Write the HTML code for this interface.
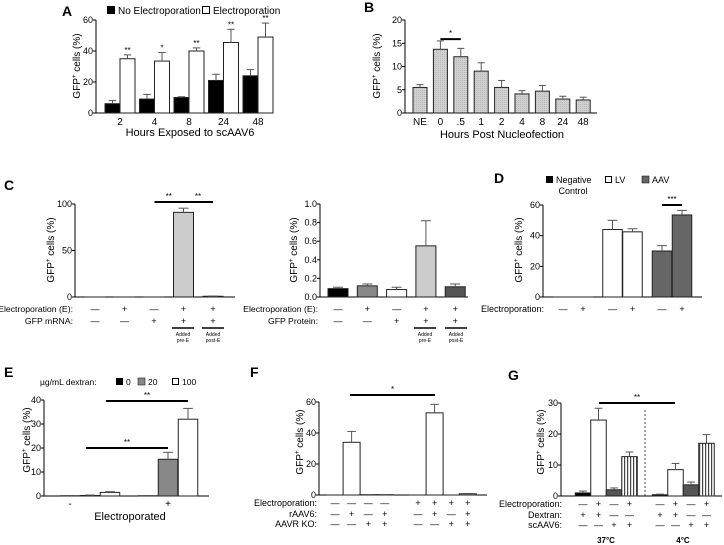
<!DOCTYPE html>
<html><head><meta charset="utf-8"><style>
html,body{margin:0;padding:0;background:#fff;}
svg{display:block;font-family:"Liberation Sans",Arial,sans-serif;}
</style></head><body>
<svg id="fig" width="724" height="545" viewBox="0 0 724 545" xmlns="http://www.w3.org/2000/svg">
<defs>
<pattern id="stripes" width="3" height="4" patternUnits="userSpaceOnUse"><rect width="3" height="4" fill="#fff"/><rect width="1.2" height="4" fill="#444"/></pattern>
<pattern id="dots" width="2" height="2" patternUnits="userSpaceOnUse"><rect width="2" height="2" fill="#d0d0d0"/><rect width="1" height="1" fill="#b8b8b8"/></pattern>
</defs>
<g font-weight="bold" font-size="14" fill="#000">
<text x="62" y="16">A</text>
<text x="364" y="12">B</text>
<text x="4" y="190">C</text>
<text x="494" y="183">D</text>
<text x="4" y="377">E</text>
<text x="250" y="377">F</text>
<text x="508" y="380">G</text>
</g>
<g font-size="10" fill="#000">
<rect x="107" y="6" width="8" height="8" fill="#000"/>
<text x="118" y="14">No Electroporation</text>
<rect x="202.5" y="6.5" width="7" height="7" fill="#fff" stroke="#000"/>
<text x="213" y="14">Electroporation</text>
<text x="190" y="136" text-anchor="middle" font-size="11">Hours Exposed to scAAV6</text>
<text x="502" y="138" text-anchor="middle" font-size="11">Hours Post Nucleofection</text>
<rect x="546" y="176" width="7" height="7" fill="#000"/>
<text x="556" y="183" font-size="9">Negative</text>
<text x="573" y="194" font-size="9" text-anchor="middle">Control</text>
<rect x="605.5" y="176.5" width="6" height="6" fill="#fff" stroke="#000"/>
<text x="615" y="183" font-size="9">LV</text>
<rect x="642" y="176" width="7" height="7" fill="#666" stroke="#000" stroke-width="0.5"/>
<text x="652" y="183" font-size="9">AAV</text>
<text x="40" y="385" font-size="8.5">µg/mL dextran:</text>
<rect x="116" y="378" width="7" height="7" fill="#000"/>
<text x="126" y="385" font-size="8.5">0</text>
<rect x="138" y="378" width="7" height="7" fill="#888" stroke="#000" stroke-width="0.5"/>
<text x="148" y="385" font-size="8.5">20</text>
<rect x="172.5" y="378.5" width="6" height="6" fill="#fff" stroke="#000"/>
<text x="182" y="385" font-size="8.5">100</text>
<text x="130" y="520" text-anchor="middle" font-size="11">Electroporated</text>
<text x="606" y="543" text-anchor="middle" font-size="8" font-weight="bold">37°C</text>
<text x="683" y="543" text-anchor="middle" font-size="8" font-weight="bold">4°C</text>
<line x1="645" y1="410" x2="645" y2="496" stroke="#000" stroke-width="0.7" stroke-dasharray="2,2"/>
</g>
</svg>
<script>
const svg = document.getElementById('fig');
const NS = 'http://www.w3.org/2000/svg';
function el(tag, attrs){ const e=document.createElementNS(NS,tag); for(const k in attrs) e.setAttribute(k,attrs[k]); svg.appendChild(e); return e; }

// ---- data ----
const aCats=['2','4','8','24','48'];
const aNoE=[6,9,10,21,24];
const aNoEErr=[8,12,10.5,25,28];
const aE=[35,33.5,40,45.5,49];
const aEErr=[37.5,39,42,54,58];
const aStars=['**','*','**','**','**'];
const aTicks=[0,20,40,60];

const bCats=['NE','0','.5','1','2','4','8','24','48'];
const bVals=[5.5,13.7,12.1,9,5.5,4.1,4.7,3,2.8];
const bErr=[6.1,15.5,13.9,10.8,7,4.8,5.9,3.6,3.4];
const bTicks=[0,5,10,15,20];

const c1Vals=[0,0,0,91,0.8];
const c1Err=[0,0,0,95.5,1];
const c1Ticks=[0,50,100];
const c1RowE=['—','+','—','+','+'];
const c1RowM=['—','—','+','+','+'];

const c2Vals=[0.09,0.12,0.08,0.55,0.11];
const c2Err=[0.105,0.14,0.105,0.82,0.14];
const c2Ticks=[0,0.2,0.4,0.6,0.8,1.0];
const c2RowE=['—','+','—','+','+'];
const c2RowP=['—','—','+','+','+'];

const dGroups=['Negative Control','LV','AAV'];
const dNoE=[0,44,30];
const dNoEErr=[0,50,33.5];
const dE=[0,42.5,53.5];
const dEErr=[0,44.5,56.5];
const dTicks=[0,20,40,60];

const eGroups=['-','+'];
const e0=[0.1,0.1];
const e20=[0.2,15.3];
const e100=[1.5,32];
const e0Err=[0.2,0.2];
const e20Err=[0.4,18.2];
const e100Err=[1.8,36.5];
const eTicks=[0,10,20,30,40];

const fVals=[0,34,0.2,0.2,0,53,0,0.8];
const fErr=[0,41,0.3,0.3,0,58.5,0,1];
const fTicks=[0,20,40,60];
const fRowE=['—','—','—','—','+','+','+','+'];
const fRowR=['—','+','—','+','—','+','—','+'];
const fRowK=['—','—','+','+','—','—','+','+'];

const g37=[1,24.5,2,12.7];
const g37Err=[1.6,28.3,2.6,14.2];
const g4=[0.4,8.5,3.6,17];
const g4Err=[0.6,10.5,4.5,19.8];
const gTicks=[0,10,20,30];
const gRowE=['—','+','—','+'];
const gRowD=['+','+','—','—'];
const gRowS=['—','—','+','+'];

// ---- helpers ----
function ys(ax,v){ return ax.y0 - v/ax.max*(ax.y0-ax.yT); }
function axis(ax, ticks, fmt, name){
  const v=el('line',{x1:ax.x0,y1:ax.yT,x2:ax.x0,y2:ax.y0,stroke:'#000','stroke-width':1});
  
  
  const h=el('line',{x1:ax.x0,y1:ax.y0,x2:ax.x1,y2:ax.y0,stroke:'#000','stroke-width':1});
  
  
  ticks.forEach(t=>{
    const y=ys(ax,t);
    const l=el('line',{x1:ax.x0-3,y1:y,x2:ax.x0,y2:y,stroke:'#000','stroke-width':1});
    
    
    const tx=el('text',{x:ax.x0-3,y:y+3,'text-anchor':'end','font-size':9});
    tx.textContent=fmt(t);
    
    
  });
}
function ytitle(x,y,name){
  const t=el('text',{x:0,y:0,transform:'translate('+x+','+y+') rotate(-90)','text-anchor':'middle','font-size':10});
  t.innerHTML='GFP<tspan font-size="6" dy="-4">+</tspan><tspan dy="4"> cells (%)</tspan>';
  
  
}
function bar(ax,cx,w,v,e,fill,name){
  const top=ys(ax,v);
  const r=el('rect',{x:cx-w/2,y:top,width:w,height:Math.max(ax.y0-top,0.01),fill:fill,stroke:'#222','stroke-width':1});
  
  
  if(e>v){
    const et=ys(ax,e);
    const l=el('line',{x1:cx,y1:top,x2:cx,y2:et,stroke:'#555','stroke-width':1});
    
    
    const c=el('line',{x1:cx-w/4,y1:et,x2:cx+w/4,y2:et,stroke:'#555','stroke-width':1});
    
    
  }
}
function txt(x,y,s,size,anchor,name){
  const t=el('text',{x:x,y:y,'font-size':size,'text-anchor':anchor||'middle'});
  t.textContent=s;
  
  
  return t;
}
function sig(x1,x2,y,s,name){
  const l=el('line',{x1:x1,y1:y,x2:x2,y2:y,stroke:'#000','stroke-width':2});
  
  
  txt((x1+x2)/2,y-3,s,8,'middle',name+'-stars');
}
const f0=t=>String(t);

// ---- A ----
const axA={x0:96,x1:272,y0:113,yT:20,max:60};
axis(axA,aTicks,f0,'panel-a'); ytitle(80,66,'panel-a');
aCats.forEach((c,i)=>{
  const cx=120+34.5*i;
  bar(axA,cx-7.5,15,aNoE[i],aNoEErr[i],'#000','bar-a-no-electroporation');
  bar(axA,cx+7.5,15,aE[i],aEErr[i],'#fff','bar-a-electroporation');
  txt(cx+7.5,ys(axA,aEErr[i])-2,aStars[i],8,'middle','panel-a-stars');
  txt(cx,125,c,10,'middle','panel-a-x-tick-label');
});

// ---- B ----
const axB={x0:405,x1:597,y0:113,yT:20,max:20};
axis(axB,bTicks,f0,'panel-b'); ytitle(380,66,'panel-b');
bCats.forEach((c,i)=>{
  const cx=420+20.4*i;
  bar(axB,cx,14,bVals[i],bErr[i],'url(#dots)','bar-b');
  txt(cx,125,c,10,'middle','panel-b-x-tick-label');
});
sig(440.4,460.8,ys(axB,15.9),'*','panel-b-significance');

// ---- C left ----
const axC1={x0:75,x1:235,y0:297,yT:204,max:100};
axis(axC1,c1Ticks,f0,'panel-c-mrna'); ytitle(54,250,'panel-c-mrna');
txt(73,312,'Electroporation (E):',8.7,'end','panel-c-mrna-row-electroporation');
txt(73,324,'GFP mRNA:',8.7,'end','panel-c-mrna-row-mrna');
c1Vals.forEach((v,i)=>{
  const cx=95+29.5*i;
  bar(axC1,cx,20,v,c1Err[i],'#ccc','bar-c-mrna');
  txt(cx,312,c1RowE[i],9,'middle','panel-c-mrna-sign');
  txt(cx,324,c1RowM[i],9,'middle','panel-c-mrna-sign');
});
sig(154.5,183,202,'**','panel-c-mrna-sig-1');
sig(183,213,202,'**','panel-c-mrna-sig-2');

// ---- C right ----
const axC2={x0:320,x1:468,y0:297,yT:204,max:1};
axis(axC2,c2Ticks,t=>t.toFixed(1),'panel-c-protein'); ytitle(297,250,'panel-c-protein');
txt(318,312,'Electroporation (E):',8.7,'end','panel-c-protein-row-electroporation');
txt(318,324,'GFP Protein:',8.7,'end','panel-c-protein-row-protein');
const c2Fill=['#000','#888','#fff','#ccc','#555'];
c2Vals.forEach((v,i)=>{
  const cx=338+29.3*i;
  bar(axC2,cx,20,v,c2Err[i],c2Fill[i],'bar-c-protein');
  txt(cx,312,c2RowE[i],9,'middle','panel-c-protein-sign');
  txt(cx,324,c2RowP[i],9,'middle','panel-c-protein-sign');
});
[[183,213],[425,456]].forEach(p=>{
  p.forEach((cx,k)=>{
    const l=el('line',{x1:cx-11,y1:328,x2:cx+11,y2:328,stroke:'#000','stroke-width':1.5});
    
    
    txt(cx,336,'Added',5,'middle','panel-c-condition-label');
    txt(cx,342,k===0?'pre-E':'post-E',5,'middle','panel-c-condition-label');
  });
});

// ---- D ----
const axD={x0:543,x1:702,y0:297,yT:205,max:60};
axis(axD,dTicks,f0,'panel-d'); ytitle(522,250,'panel-d');
txt(544,312,'Electroporation:',9,'end','panel-d-row-electroporation');
const dFill=['#000','#fff','#666'];
dGroups.forEach((g,i)=>{
  const gc=573+49.5*i;
  bar(axD,gc-10,19.5,dNoE[i],dNoEErr[i],dFill[i],'bar-d-no-electroporation');
  bar(axD,gc+10,19.5,dE[i],dEErr[i],dFill[i],'bar-d-electroporation');
  txt(gc-10,312,'—',9,'middle','panel-d-sign');
  txt(gc+10,312,'+',9,'middle','panel-d-sign');
});
sig(662,682,205,'***','panel-d-significance');

// ---- E ----
const axE={x0:44,x1:209,y0:496,yT:400,max:40};
axis(axE,eTicks,f0,'panel-e'); ytitle(30,440,'panel-e');
const eLabelX=[70,168];
eGroups.forEach((g,i)=>{
  const gc=90+78*i;
  bar(axE,gc-20,19.5,e0[i],e0Err[i],'#000','bar-e-dextran-0');
  bar(axE,gc,19.5,e20[i],e20Err[i],'#888','bar-e-dextran-20');
  bar(axE,gc+20,19.5,e100[i],e100Err[i],'#fff','bar-e-dextran-100');
  txt(eLabelX[i],507,g,10,'middle','panel-e-x-tick-label');
});
sig(86,168,448,'**','panel-e-sig-1');
sig(106,188,401,'**','panel-e-sig-2');

// ---- F ----
const axF={x0:319,x1:487,y0:495,yT:402,max:60};
axis(axF,fTicks,f0,'panel-f'); ytitle(303,442,'panel-f');
txt(317,506,'Electroporation:',9,'end','panel-f-row-electroporation');
txt(317,517,'rAAV6:',9,'end','panel-f-row-raav6');
txt(317,527,'AAVR KO:',9,'end','panel-f-row-aavr-ko');
fVals.forEach((v,i)=>{
  const cx=335+16.6*i+16.6*Math.floor(i/4);
  bar(axF,cx,17,v,fErr[i],'#fff','bar-f');
  txt(cx,506,fRowE[i],9,'middle','panel-f-sign');
  txt(cx,517,fRowR[i],9,'middle','panel-f-sign');
  txt(cx,527,fRowK[i],9,'middle','panel-f-sign');
});
sig(350,435,395,'*','panel-f-significance');

// ---- G ----
const axG={x0:561,x1:722,y0:496,yT:403,max:30};
axis(axG,gTicks,f0,'panel-g'); ytitle(544,442,'panel-g');
txt(562,507,'Electroporation:',9,'end','panel-g-row-electroporation');
txt(562,518,'Dextran:',9,'end','panel-g-row-dextran');
txt(562,528,'scAAV6:',9,'end','panel-g-row-scaav6');
const gFill=['#000','#fff','#555','url(#stripes)'];
[g37,g4].forEach((vals,gi)=>{
  const errs=gi===0?g37Err:g4Err;
  vals.forEach((v,i)=>{
    const cx=583+77*gi+15.5*i;
    bar(axG,cx,15.5,v,errs[i],gFill[i],gi===0?'bar-g-37c':'bar-g-4c');
    txt(cx,507,gRowE[i],9,'middle','panel-g-sign');
    txt(cx,518,gRowD[i],9,'middle','panel-g-sign');
    txt(cx,528,gRowS[i],9,'middle','panel-g-sign');
  });
});
sig(599,675,403,'**','panel-g-significance');
</script>
</body></html>
